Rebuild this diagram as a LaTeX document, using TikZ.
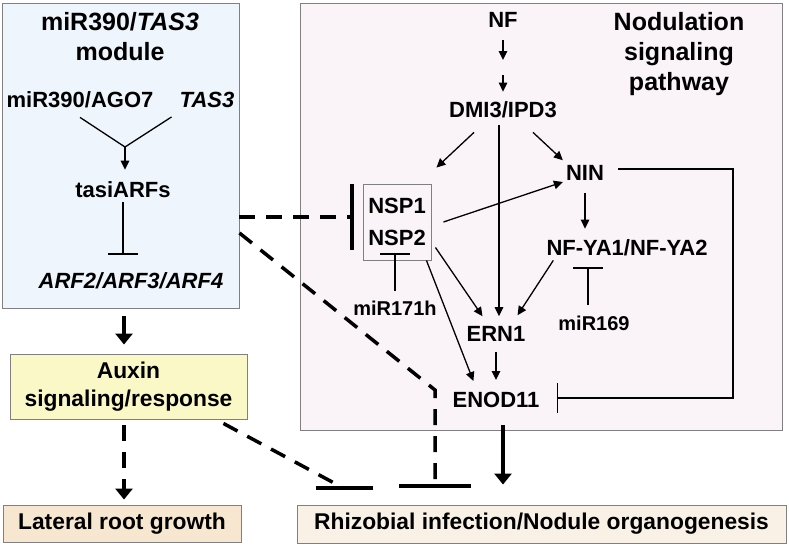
\documentclass[tikz,border=0pt]{standalone}
\usepackage{fontspec}
\setmainfont{Liberation Sans}
\usetikzlibrary{arrows.meta}

\definecolor{modfill}{HTML}{EEF5FC}
\definecolor{nodfill}{HTML}{FAF3F7}
\definecolor{auxfill}{HTML}{FBF8C8}
\definecolor{latfill}{HTML}{F8E7D0}
\definecolor{rhizfill}{HTML}{FAF1E6}
\definecolor{edge}{HTML}{808080}

\begin{document}
\begin{tikzpicture}[ x=1pt, y=-1pt,
	txt/.style={ font=\fontsize{22}{27}\selectfont\bfseries, inner sep=0pt, align=center },
	boxtxt/.style={ font=\fontsize{22.8}{28}\selectfont\bfseries, inner sep=0pt, align=center, draw=edge, line width=0.9pt },
	ttl/.style={ font=\fontsize{25}{30}\selectfont\bfseries, inner sep=0pt, align=center },
	sml/.style={ font=\fontsize{20}{24}\selectfont\bfseries, inner sep=0pt },
	panel/.style={ draw=edge, line width=0.9pt, inner sep=0pt },
	act/.style={ line width=1.3pt, -{Triangle[length=9pt,width=8.5pt]} },
	inh/.style={ line width=1.3pt, -{Bar[width=30pt,line width=1.5pt]} },
	bigact/.style={ line width=3.5pt, -{Triangle[length=11pt,width=17pt]} },
	dsh/.style={ line width=3.5pt, dash pattern=on 16pt off 11pt }
	]
	  \useasboundingbox (0,0) rectangle (789,546);

	  % panels
	  \node [ panel, fill=modfill, minimum width=237pt, minimum height=305pt ] (modpanel) at (120.5,155.5) {};
	  \node [ panel, fill=nodfill, minimum width=482pt, minimum height=427pt ] (nodpanel) at (541,216.5) {};

	  % miR390/TAS3 module
	  \node [ ttl ] (modttl) at (120,37) {miR390/\textit{TAS3}\\module};
	  \node [ txt ] (ago) at (80,100) {miR390/AGO7};
	  \node [ txt ] (tas) at (207,100) {\textit{TAS3}};
	  \node [ txt ] (tasi) at (123,190) {tasiARFs};
	  \node [ txt ] (arf) at (131,281) {\textit{ARF2/ARF3/ARF4}};
	  \coordinate (join) at (125,147);

	  \draw [ line width=1.3pt ] ([yshift=-9pt]ago.south) -- (join);
	  \draw [ line width=1.3pt ] ([shift={(-8pt,-9pt)}]tas.south west) -- (join);
	  \draw [ act ] (join) -- ([yshift=12pt]join |- tasi.north);
	  \draw [ inh, shorten <=4pt, shorten >=18pt ] (tasi.south) -- (tasi.south |- arf.north);

	  % outcome boxes
	  \node [ boxtxt, fill=auxfill, minimum width=237pt, minimum height=65pt ] (auxin) at (128.5,386.5) {Auxin\\signaling/response};
	  \node [ boxtxt, fill=latfill, minimum width=238pt, minimum height=37pt ] (lat) at (122,523.5) {Lateral root growth};
	  \node [ boxtxt, fill=rhizfill, minimum width=489pt, minimum height=38pt ] (rhiz) at (541.5,524) {Rhizobial infection/Nodule organogenesis};

	  \draw [ bigact, shorten <=8pt, shorten >=9pt ] ([xshift=2pt]lat.north |- modpanel.south) -- ([xshift=2pt]lat.north |- auxin.north);
	  \draw [ dsh, -{Triangle[length=11pt,width=17pt]}, shorten <=6pt, shorten >=5pt ] ([xshift=2pt]lat.north |- auxin.south) -- ([xshift=2pt]lat.north);

	  % nodulation signaling pathway
	  \node [ ttl ] (nodttl) at (679,54) {Nodulation\\signaling\\pathway};
	  \node [ txt ] (nf) at (503,20) {NF};
	  \node [ txt ] (dmi) at (503,110) {DMI3/IPD3};
	  \node [ txt ] (nin) at (585,173) {NIN};
	  \node [ txt, draw=edge, line width=0.9pt, minimum width=68pt, minimum height=76pt, font=\fontsize{22}{32}\selectfont\bfseries ] (nsp) at (397,222) {NSP1\\NSP2};
	  \node [ txt ] (nfya) at (627,248) {NF-YA1/NF-YA2};
	  \node [ sml ] (mirb) at (395,308) {miR171h};
	  \node [ sml ] (mirc) at (594,323) {miR169};
	  \node [ txt ] (ern) at (496,334) {ERN1};
	  \node [ txt ] (enod) at (496,400) {ENOD11};
	  \coordinate (nfmid) at (503,67);
	  \coordinate (fb) at (733,398);
	  \coordinate (bend) at (435,390);

	  \draw [ act, shorten <=12pt, shorten >=7pt ] (nf.south) -- (nfmid);
	  \draw [ act, shorten <=8pt, shorten >=10pt ] (nfmid) -- (dmi.north);
	  \draw [ act ] ([shift={(25pt,-14pt)}]dmi.south west) -- ([shift={(5pt,16pt)}]nsp.north east);
	  \draw [ act ] ([shift={(-24pt,-14pt)}]dmi.south east) -- ([shift={(-3pt,5pt)}]nin.north west);
	  \draw [ act, shorten <=7pt, shorten >=10pt ] ([xshift=-4pt]dmi.south) -- ([xshift=-4pt]dmi.south |- ern.north);
	  \draw [ act ] ([xshift=12pt]nsp.east) -- ([shift={(-3pt,-9pt)}]nin.west);
	  \draw [ act ] ([shift={(4pt,13pt)}]nsp.south east) -- ([shift={(16pt,10pt)}]ern.north west);
	  \draw [ act ] ([xshift=-5pt]nsp.south east) -- ([shift={(21pt,11pt)}]enod.north west);
	  \draw [ act, shorten <=12pt, shorten >=11pt ] (nin.south) -- (nin.south |- nfya.north);
	  \draw [ act ] ([shift={(7pt,-4pt)}]nfya.south west) -- ([shift={(-8pt,11pt)}]ern.north east);
	  \draw [ inh, shorten <=10pt, shorten >=-7pt ] (mirb.north) -- (mirb.north |- nsp.south);
	  \draw [ inh, shorten <=10pt, shorten >=11pt ] ([xshift=-6pt]mirc.north) -- ([xshift=-6pt]mirc.north |- nfya.south);
	  \draw [ act, shorten <=10pt, shorten >=12pt ] (ern.south) -- (ern.south |- enod.north);
	  \draw [ inh ] ([shift={(14pt,4pt)}]nin.east) -| (fb) -- ([xshift=17pt]enod.east |- fb);
	  \draw [ bigact, shorten <=17pt, shorten >=20pt ] ([xshift=7pt]enod.south) -- ([xshift=7pt]enod.south |- rhiz.north);

	  % cross talk
	  \draw [ dsh, -{Bar[width=66pt,line width=4pt]} ] ([yshift=5pt]modpanel.east |- nsp.west) -- ([shift={(-9pt,5pt)}]nsp.west);
	  \draw [ dsh, -{Bar[width=72pt,line width=4pt]}, shorten >=17pt ] ([yshift=-11pt]modpanel.east |- nsp.west) -- (bend) -- (bend |- rhiz.north);
	  \draw [ dsh ] ([shift={(-24pt,-4pt)}]auxin.south east) -- ([shift={(46pt,17pt)}]rhiz.north west) coordinate (auxend);
	  \draw [ line width=4pt ] ([xshift=-27pt]auxend) -- ([xshift=30pt]auxend);
	\end{tikzpicture}
\end{document}
